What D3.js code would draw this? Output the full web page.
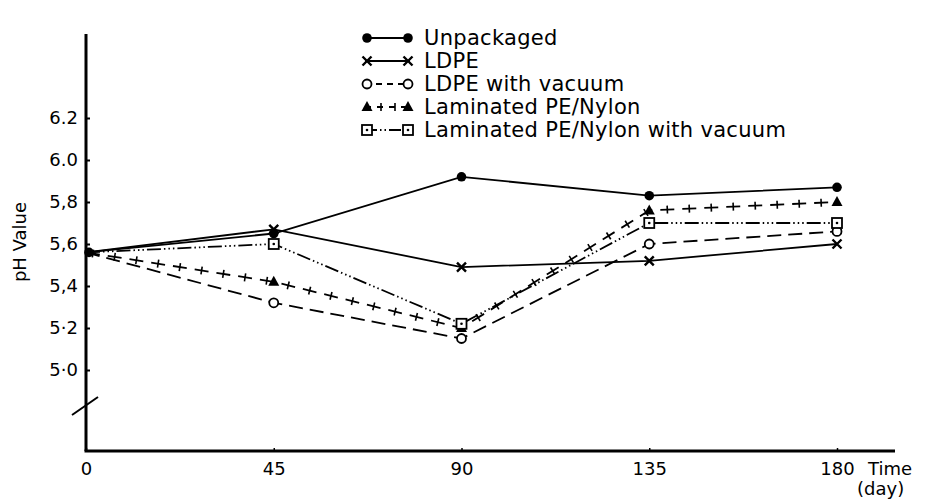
<!DOCTYPE html>
<html>
<head>
<meta charset="utf-8">
<script src="https://cdn.jsdelivr.net/npm/d3@7"></script>
<style>
  body { margin: 0; background: #fff; }
  text { font-family: "DejaVu Sans", sans-serif; fill: #000; }
</style>
</head>
<body>
<div id="canvas"></div>
<script>
// data
const days = [0, 45, 90, 135, 180];
const yTicks = [5.0, 5.2, 5.4, 5.6, 5.8, 6.0, 6.2];
const yTickLabels = ["5\u00b70", "5\u00b72", "5,4", "5,6", "5,8", "6.0", "6.2"];
const seriesNames = [
  "Unpackaged",
  "LDPE",
  "LDPE with vacuum",
  "Laminated PE/Nylon",
  "Laminated PE/Nylon with vacuum",
];
const unpackaged = [5.56, 5.65, 5.92, 5.83, 5.87];
const ldpe = [5.56, 5.67, 5.49, 5.52, 5.60];
const ldpeVacuum = [5.56, 5.32, 5.15, 5.60, 5.66];
const laminated = [5.56, 5.42, 5.20, 5.76, 5.80];
const laminatedVacuum = [5.56, 5.60, 5.22, 5.70, 5.70];

const width = 925;
const height = 500;

const svg = d3
  .select("#canvas")
  .append("svg")
  .attr("width", width)
  .attr("height", height);

const x = d3.scaleLinear().domain([0, 180]).range([86, 837]);
const y = d3.scaleLinear().domain([5.0, 6.2]).range([370, 118]);
const axisY = 451;
const axisTop = 34;

// styles per series
const styles = [
  { dash: null, legendDash: null, marker: "dot", ticks: false },
  { dash: null, legendDash: null, marker: "cross", ticks: false },
  { dash: "14,7", legendDash: "6,5", marker: "circle", ticks: false },
  { dash: "14,8", legendDash: "6,6", marker: "triangle", ticks: true },
  { dash: "14,3,1.5,3,1.5,3,1.5,3", legendDash: "12,3,1.5,3,1.5,3", marker: "square", ticks: false },
];
const allSeries = [unpackaged, ldpe, ldpeVacuum, laminated, laminatedVacuum];

const drawMarker = (g, kind, cx, cy) => {
  if (kind === "dot") {
    g.append("circle").attr("cx", cx).attr("cy", cy).attr("r", 4.8).attr("fill", "#000");
  } else if (kind === "cross") {
    const s = 4.5;
    g.append("path")
      .attr("d", `M${cx - s},${cy - s}L${cx + s},${cy + s}M${cx - s},${cy + s}L${cx + s},${cy - s}`)
      .attr("stroke", "#000")
      .attr("stroke-width", 2.4);
  } else if (kind === "circle") {
    g.append("circle")
      .attr("cx", cx).attr("cy", cy).attr("r", 4.5)
      .attr("fill", "#fff").attr("stroke", "#000").attr("stroke-width", 1.8);
  } else if (kind === "triangle") {
    g.append("path")
      .attr("d", `M${cx},${cy - 6}L${cx + 5.5},${cy + 4}L${cx - 5.5},${cy + 4}Z`)
      .attr("fill", "#000");
  } else if (kind === "square") {
    g.append("rect")
      .attr("x", cx - 5).attr("y", cy - 5).attr("width", 10).attr("height", 10)
      .attr("fill", "#fff").attr("stroke", "#000").attr("stroke-width", 1.8);
    g.append("circle").attr("cx", cx).attr("cy", cy).attr("r", 1.3).attr("fill", "#000");
  }
};

// small crosses along a path, in the middle of each dash
const addTicks = (g, pathNode) => {
  const total = pathNode.getTotalLength();
  for (let l = 7; l < total - 4; l += 22) {
    const p = pathNode.getPointAtLength(l);
    const p2 = pathNode.getPointAtLength(Math.min(l + 1, total));
    const ang = Math.atan2(p2.y - p.y, p2.x - p.x) + Math.PI / 2;
    const h = 4;
    g.append("line")
      .attr("x1", p.x - h * Math.cos(ang)).attr("y1", p.y - h * Math.sin(ang))
      .attr("x2", p.x + h * Math.cos(ang)).attr("y2", p.y + h * Math.sin(ang))
      .attr("stroke", "#000").attr("stroke-width", 1.6);
  }
};

const line = d3
  .line()
  .x((d, i) => x(days[i]))
  .y((d) => y(d));

const plot = svg.append("g");
allSeries.forEach((vals, k) => {
  const st = styles[k];
  const g = plot.append("g");
  const p = g
    .append("path")
    .datum(vals)
    .attr("fill", "none")
    .attr("stroke", "#000")
    .attr("stroke-width", 1.8)
    .attr("stroke-dasharray", st.dash)
    .attr("d", line);
  if (st.ticks) addTicks(g, p.node());
  vals.forEach((v, i) => {
    if (i > 0) drawMarker(g, st.marker, x(days[i]), y(v));
  });
});

// start point cluster at day 0
drawMarker(plot, "dot", x(0) + 3, y(unpackaged[0]));

// axes
svg.append("line")
  .attr("x1", x(0)).attr("x2", x(0))
  .attr("y1", axisTop).attr("y2", axisY)
  .attr("stroke", "#000").attr("stroke-width", 3);
svg.append("line")
  .attr("x1", x(0) - 1.5).attr("x2", 895)
  .attr("y1", axisY).attr("y2", axisY)
  .attr("stroke", "#000").attr("stroke-width", 3);

// axis break
svg.append("line")
  .attr("x1", 72).attr("y1", 415).attr("x2", 98).attr("y2", 397)
  .attr("stroke", "#000").attr("stroke-width", 2);

const yAxis = d3
  .axisRight(y)
  .tickValues(yTicks)
  .tickSize(4)
  .tickFormat((d, i) => yTickLabels[i]);
const yg = svg.append("g").attr("transform", `translate(${x(0)},0)`).call(yAxis);
yg.select(".domain").remove();
yg.selectAll(".tick line").attr("stroke-width", 2);
yg.selectAll(".tick text")
  .attr("x", -8)
  .attr("text-anchor", "end")
  .style("font-size", "18px")
  .style("font-family", "DejaVu Sans, sans-serif");

const xAxis = d3.axisTop(x).tickValues(days).tickSize(3).tickFormat(d3.format("d"));
const xg = svg.append("g").attr("transform", `translate(0,${axisY})`).call(xAxis);
xg.select(".domain").remove();
xg.selectAll(".tick line").attr("stroke-width", 1.5);
xg.selectAll(".tick text")
  .attr("y", 24)
  .attr("dy", "0")
  .style("font-size", "18px")
  .style("font-family", "DejaVu Sans, sans-serif");

svg.append("text")
  .attr("x", 868).attr("y", 475)
  .style("font-size", "18px")
  .text("Time");
svg.append("text")
  .attr("x", 857).attr("y", 495)
  .style("font-size", "18px")
  .text("(day)");

svg.append("text")
  .attr("transform", "translate(26,242) rotate(-90)")
  .attr("text-anchor", "middle")
  .style("font-size", "18px")
  .text("pH Value");

// legend
const legend = svg.append("g");
seriesNames.forEach((name, k) => {
  const st = styles[k];
  const ly = 38 + k * 23;
  const g = legend.append("g");
  g.append("path")
    .attr("d", `M365,${ly}L410,${ly}`)
    .attr("fill", "none")
    .attr("stroke", "#000")
    .attr("stroke-width", 1.8)
    .attr("stroke-dasharray", st.legendDash);
  if (st.ticks) {
    [381, 395].forEach((tx) => {
      g.append("line").attr("x1", tx).attr("x2", tx).attr("y1", ly - 4).attr("y2", ly + 4)
        .attr("stroke", "#000").attr("stroke-width", 1.6);
    });
  }
  drawMarker(g, st.marker, 367, ly);
  drawMarker(g, st.marker, 408, ly);
  g.append("text")
    .attr("x", 424)
    .attr("y", ly)
    .attr("dy", "0.35em")
    .style("font-size", "21px")
    .style("letter-spacing", "0.3px")
    .text(name);
});
</script>
</body>
</html>
